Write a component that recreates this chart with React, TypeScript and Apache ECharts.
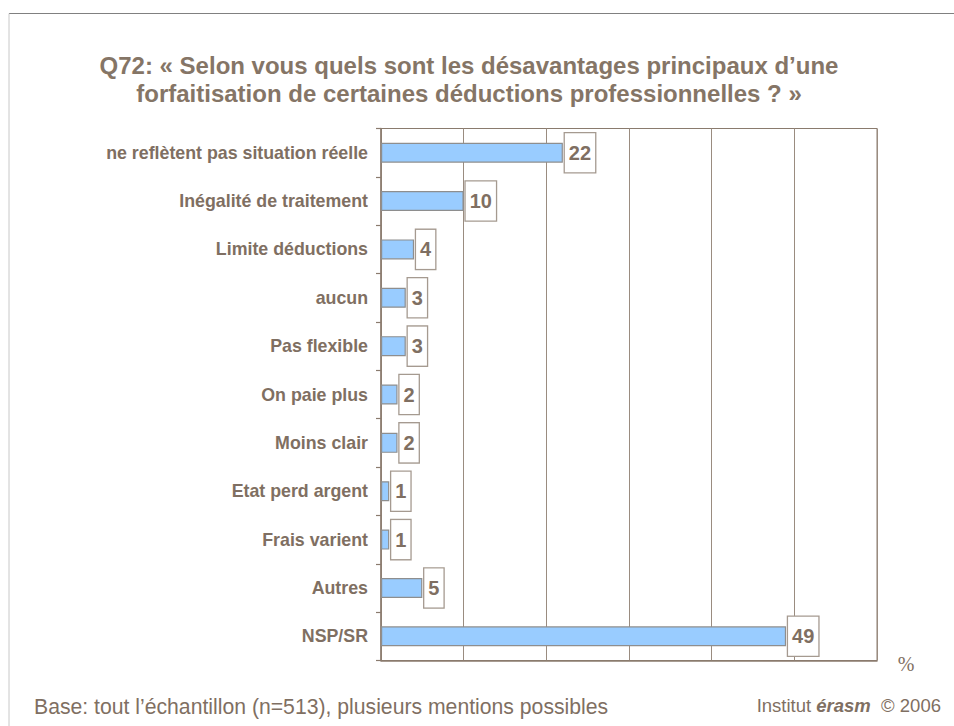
import React, { useEffect, useRef } from "react";
import * as echarts from "echarts";

const categories = [
  "ne reflètent pas situation réelle",
  "Inégalité de traitement",
  "Limite déductions",
  "aucun",
  "Pas flexible",
  "On paie plus",
  "Moins clair",
  "Etat perd argent",
  "Frais varient",
  "Autres",
  "NSP/SR",
];
const values = [22, 10, 4, 3, 3, 2, 2, 1, 1, 5, 49];

const titleLines = [
  "Q72: « Selon vous quels sont les désavantages principaux d’une",
  "forfaitisation de certaines déductions professionnelles ? »",
];
const footLeft = "Base: tout l’échantillon (n=513), plusieurs mentions possibles";

const TXT = "#7f6f62";
const LINE = "#8a7b6e";
const FONT = "'Liberation Sans', Arial, Helvetica, sans-serif";

export default function App() {
  const ref = useRef<HTMLDivElement>(null);
  useEffect(() => {
    if (!ref.current) return;
    const chart = echarts.init(ref.current, null, { renderer: "svg" });
    chart.setOption({
      animation: false,
      backgroundColor: "#ffffff",
      grid: {
        left: 381,
        right: 77,
        top: 128.5,
        bottom: 65.5,
        show: true,
        borderColor: LINE,
        borderWidth: 1,
        backgroundColor: "transparent",
      },
      xAxis: {
        type: "value",
        min: 0,
        max: 60,
        interval: 10,
        axisLabel: { show: false },
        axisTick: { show: false },
        axisLine: { show: true, lineStyle: { color: LINE, width: 1.5 } },
        splitLine: { show: true, lineStyle: { color: "#9a8c80", width: 1 } },
      },
      yAxis: {
        type: "category",
        inverse: true,
        data: categories,
        axisLine: { show: true, lineStyle: { color: LINE, width: 1.5 } },
        axisTick: { show: true, length: 5, lineStyle: { color: LINE, width: 1.2 } },
        axisLabel: {
          color: TXT,
          fontSize: 17.8,
          fontWeight: "bold",
          fontFamily: FONT,
          margin: 13,
        },
        splitLine: { show: false },
      },
      series: [
        {
          type: "bar",
          data: values,
          barWidth: 20,
          itemStyle: { color: "#99ccff", borderColor: "#8e8e8e", borderWidth: 1.2 },
          label: {
            show: true,
            position: "right",
            distance: 2,
            color: TXT,
            fontSize: 20,
            fontWeight: "bold",
            fontFamily: FONT,
            backgroundColor: "#ffffff",
            borderColor: "#a59a90",
            borderWidth: 1.3,
            padding: [9, 4, 9, 4],
            lineHeight: 21,
          },
        },
      ],
      graphic: [
        {
          type: "line",
          shape: { x1: 9, y1: 13.5, x2: 954, y2: 13.5 },
          style: { stroke: "#808080", lineWidth: 1 },
        },
        {
          type: "line",
          shape: { x1: 9, y1: 13.5, x2: 9, y2: 726 },
          style: { stroke: "#c8c8c8", lineWidth: 1 },
        },
        {
          type: "text",
          x: 469,
          y: 51,
          style: {
            text: titleLines.join("\n"),
            fill: "#857566",
            fontSize: 24,
            fontWeight: "bold",
            fontFamily: FONT,
            lineHeight: 28.4,
            textAlign: "center",
            textVerticalAlign: "top",
          },
        },
        {
          type: "text",
          x: 906,
          y: 664,
          style: {
            text: "%",
            fill: TXT,
            fontSize: 20,
            fontFamily: "'Liberation Serif', 'Times New Roman', serif",
            textAlign: "center",
            textVerticalAlign: "middle",
          },
        },
        {
          type: "text",
          x: 34,
          y: 706,
          style: {
            text: footLeft,
            fill: TXT,
            fontSize: 21.2,
            fontFamily: FONT,
            textAlign: "left",
            textVerticalAlign: "middle",
          },
        },
        {
          type: "text",
          x: 941,
          y: 705,
          style: {
            text: "{a|Institut }{b|érasm}{a|  © 2006}",
            textAlign: "right",
            textVerticalAlign: "middle",
            rich: {
              a: { fill: TXT, fontSize: 18.5, fontFamily: FONT },
              b: { fill: TXT, fontSize: 18.5, fontFamily: FONT, fontWeight: "bold", fontStyle: "italic" },
            },
          },
        },
      ],
    });
    return () => chart.dispose();
  }, []);
  return (
    <div
      ref={ref}
      style={{ position: "fixed", left: 0, top: 0, width: 954, height: 726, background: "#fff" }}
    />
  );
}
